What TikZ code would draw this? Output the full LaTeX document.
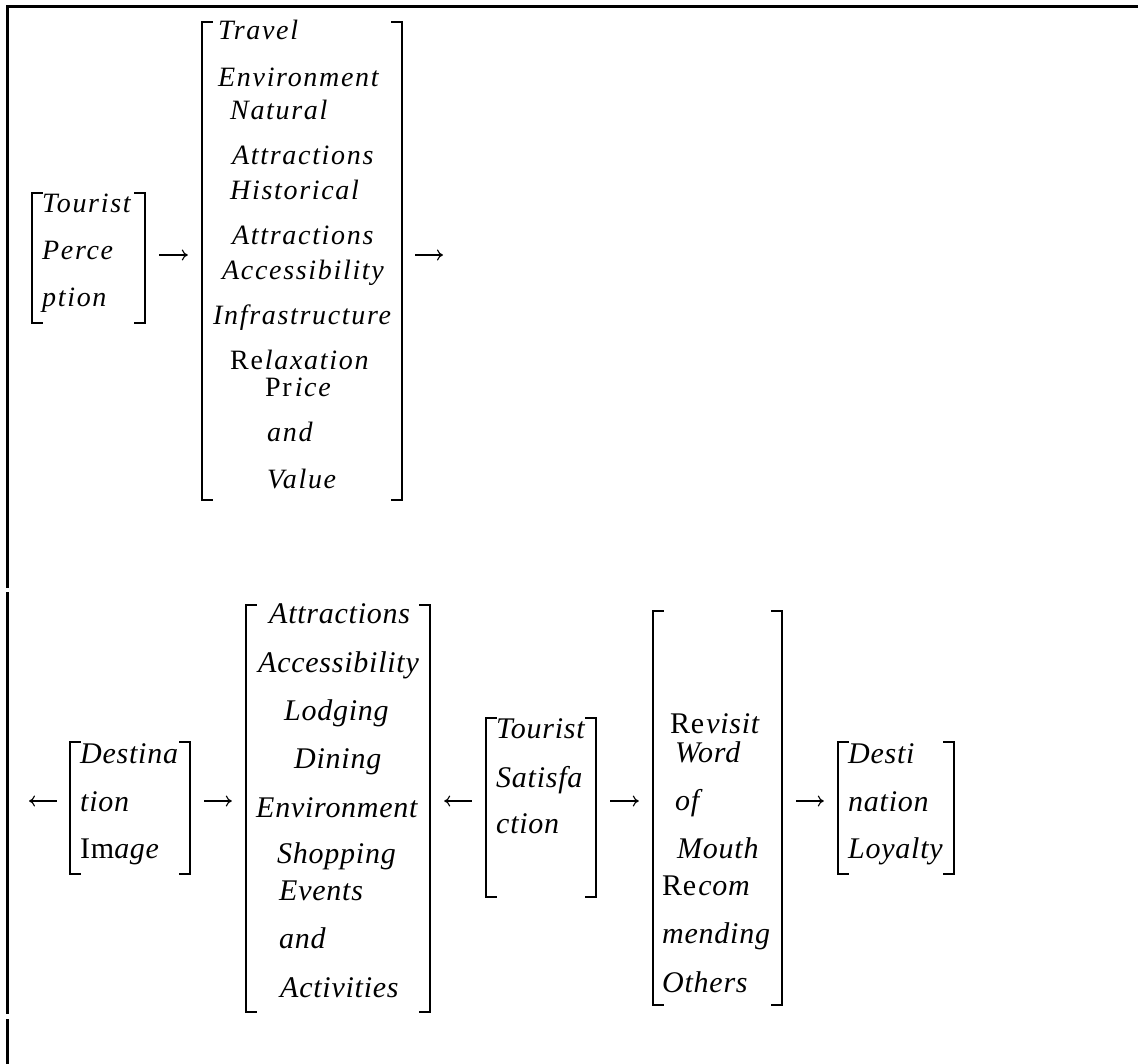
\documentclass[tikz,border=0pt]{standalone}
\usepackage{fontspec}
\setmainfont{Liberation Serif}
\newfontfamily\widefont[LetterSpace=6]{Liberation Serif}
\newfontfamily\lowfont[LetterSpace=2.5]{Liberation Serif}
\usetikzlibrary{positioning, arrows.meta, fit, calc}

% bracket pair round a group node
\newcommand{\brackets}[1]{%
  \draw[brk] ([xshift=11pt]#1.north west) -| (#1.south west) -- ++(11pt,0);
  \draw[brk] ([xshift=-11pt]#1.north east) -| (#1.south east) -- ++(-11pt,0);}

\begin{document}
\begin{tikzpicture}[x=1pt, y=-1pt,
  % Node Styles
  grp/.style={draw=none, rectangle, inner sep=0pt},
  wtxt/.style={anchor=base west, inner sep=0pt, font=\widefont\itshape\fontsize{28}{28}\selectfont},
  ntxt/.style={anchor=base west, inner sep=0pt, font=\lowfont\itshape\fontsize{30}{30}\selectfont},
  % Line Styles
  brk/.style={line width=1.8pt, black},
  link/.style={-{To[length=6pt, width=11pt]}, line width=1.1pt, black, shorten <=14pt, shorten >=14pt},
  frame/.style={line width=2.2pt, black}
]
\useasboundingbox (0,0) rectangle (1138,1064);

% Frame
\draw[frame] (7.5,588) -- (7.5,6.5) -- (1138,6.5);
\draw[frame] (7.5,592) -- (7.5,1014);
\draw[frame] (7.5,1019) -- (7.5,1064);

% Arrow rows
\coordinate (row1) at (0,255);
\coordinate (row2) at (0,801);

% Top row groups
\node[grp, fit={(32,193) (145,323)}] (perc) {};
\node[grp, fit={(202,22) (402,500)}] (attr) {};
\brackets{perc}
\brackets{attr}

\node[wtxt] (perc-1) at (42,213) {Tourist};
\node[wtxt] (perc-2) at (42,260) {Perce};
\node[wtxt] (perc-3) at (42,307) {ption};

\node[wtxt] (attr-1) at (218,40) {Travel};
\node[wtxt] (attr-2) at (218,87) {Environment};
\node[wtxt] (attr-3) at (230,120) {Natural};
\node[wtxt] (attr-4) at (232,165) {Attractions};
\node[wtxt] (attr-5) at (230,200) {Historical};
\node[wtxt] (attr-6) at (232,245) {Attractions};
\node[wtxt] (attr-7) at (222,280) {Accessibility};
\node[wtxt] (attr-8) at (213,325) {Infrastructure};
\node[wtxt] (attr-9) at (230,370) {\textup{Re}\hspace{2pt}laxation};
\node[wtxt] (attr-10) at (265,397) {\textup{Pr}\hspace{3pt}ice};
\node[wtxt] (attr-11) at (267,442) {and};
\node[wtxt] (attr-12) at (267,488) {Value};

\coordinate (out1) at (443,255);
\draw[link] (perc.east |- row1) -- (attr.west |- row1);
\draw[link, shorten >=0pt, shorten <=13pt] (attr.east |- row1) -- (out1);

% Bottom row groups
\node[grp, fit={(70,742) (190,874)}] (img) {};
\node[grp, fit={(246,605) (430,1012)}] (comp) {};
\node[grp, fit={(486,718) (596,897)}] (sat) {};
\node[grp, fit={(653,611) (782,1005)}] (beh) {};
\node[grp, fit={(838,742) (954,874)}] (loy) {};
\brackets{img}
\brackets{comp}
\brackets{sat}
\brackets{beh}
\brackets{loy}

\node[ntxt] (img-1) at (80,763) {Destina};
\node[ntxt] (img-2) at (80,811) {tion};
\node[ntxt] (img-3) at (80,858) {\textup{Im}age};

\node[ntxt] (comp-1) at (269,623) {Attractions};
\node[ntxt] (comp-2) at (258,672) {Accessibility};
\node[ntxt] (comp-3) at (284,720) {Lodging};
\node[ntxt] (comp-4) at (294,768) {Dining};
\node[ntxt] (comp-5) at (256,817) {Environment};
\node[ntxt] (comp-6) at (277,863) {Shopping};
\node[ntxt] (comp-7) at (279,900) {Events};
\node[ntxt] (comp-8) at (279,948) {and};
\node[ntxt] (comp-9) at (280,997) {Activities};

\node[ntxt] (sat-1) at (496,738) {Tourist};
\node[ntxt] (sat-2) at (496,787) {Satisfa};
\node[ntxt] (sat-3) at (496,833) {ction};

\node[ntxt] (beh-1) at (670,733) {\textup{Re}\hspace{2pt}visit};
\node[ntxt] (beh-2) at (675,762) {Word};
\node[ntxt] (beh-3) at (675,810) {of};
\node[ntxt] (beh-4) at (677,858) {Mouth};
\node[ntxt] (beh-5) at (662,895) {\textup{Re}\hspace{2pt}com};
\node[ntxt] (beh-6) at (662,943) {mending};
\node[ntxt] (beh-7) at (662,992) {Others};

\node[ntxt] (loy-1) at (848,763) {Desti};
\node[ntxt] (loy-2) at (848,811) {nation};
\node[ntxt] (loy-3) at (848,858) {Loyalty};

\coordinate (in2) at (29,801);
\draw[link, shorten >=0pt, shorten <=13pt] (img.west |- row2) -- (in2);
\draw[link] (img.east |- row2) -- (comp.west |- row2);
\draw[link] (sat.west |- row2) -- (comp.east |- row2);
\draw[link] (sat.east |- row2) -- (beh.west |- row2);
\draw[link] (beh.east |- row2) -- (loy.west |- row2);

\end{tikzpicture}
\end{document}
